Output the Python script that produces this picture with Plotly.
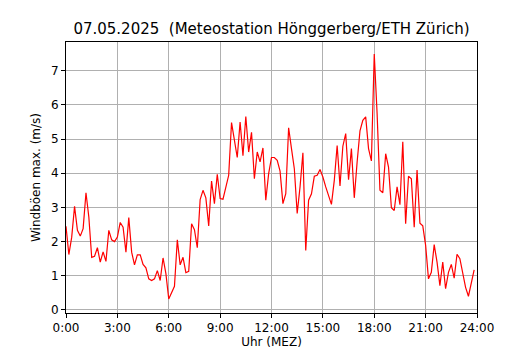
import plotly.graph_objects as go

title = "07.05.2025  (Meteostation Hönggerberg/ETH Zürich)"
x_label = "Uhr (MEZ)"
y_label = "Windböen max. (m/s)"
tick_hours = [0, 3, 6, 9, 12, 15, 18, 21, 24]
tick_labels = ["0:00", "3:00", "6:00", "9:00", "12:00", "15:00", "18:00", "21:00", "24:00"]
y_ticks = [0, 1, 2, 3, 4, 5, 6, 7]

# 10-minute values, 0:00 .. 23:50
gusts = [
    2.45, 1.62, 2.13, 3.03, 2.33, 2.16, 2.38, 3.43, 2.72, 1.54, 1.57, 1.82,
    1.40, 1.70, 1.42, 2.33, 2.05, 2.00, 2.13, 2.56, 2.42, 1.69, 2.70, 1.69,
    1.32, 1.61, 1.61, 1.33, 1.23, 0.91, 0.86, 0.91, 1.15, 0.86, 1.52, 1.06,
    0.32, 0.52, 0.69, 2.05, 1.32, 1.54, 1.09, 1.13, 2.52, 2.35, 1.82, 3.23,
    3.50, 3.28, 2.46, 3.77, 3.11, 3.97, 3.26, 3.24, 3.57, 3.94, 5.48, 4.97,
    4.46, 5.50, 4.51, 5.66, 4.62, 5.20, 3.84, 4.62, 4.33, 4.74, 3.21, 3.99,
    4.46, 4.46, 4.38, 4.06, 3.11, 3.40, 5.33, 4.72, 4.13, 2.82, 3.60, 4.60,
    1.74, 3.21, 3.40, 3.91, 3.94, 4.11, 3.89, 3.60, 3.35, 3.09, 3.79, 4.81,
    3.63, 4.79, 5.16, 3.81, 4.72, 3.28, 4.33, 5.24, 5.55, 5.65, 4.72, 4.36,
    7.49, 5.75, 3.50, 3.43, 4.57, 4.18, 2.99, 2.91, 3.60, 3.08, 4.92, 2.52,
    3.91, 3.84, 2.42, 4.09, 2.54, 2.46, 1.89, 0.91, 1.10, 1.91, 1.40, 0.71,
    1.40, 0.62, 1.10, 1.33, 0.93, 1.63, 1.50, 1.10, 0.66, 0.40, 0.76, 1.17,
]
hours = [i / 6 for i in range(len(gusts))]

fig = go.Figure()
fig.add_trace(go.Scatter(x=hours, y=gusts, mode="lines",
                         line=dict(color="#ff0000", width=1.2), showlegend=False))

axis_common = dict(
    showline=True, linecolor="black", linewidth=1, mirror=True,
    ticks="outside", ticklen=4, tickcolor="black", tickwidth=1,
    showgrid=True, gridcolor="#b0b0b0", gridwidth=1, zeroline=False,
    tickfont=dict(size=12, color="black"), automargin=False,
)

# page body has an 8px margin, so the figure is sized to fit inside it
fig.update_layout(
    width=522, height=342,
    margin=dict(l=58, r=53, t=34, b=37),
    paper_bgcolor="white", plot_bgcolor="white",
    font=dict(family="DejaVu Sans", color="black"),
    title=dict(text=title, x=0.5, xanchor="center", xref="paper",
               y=1 - 21 / 342, yanchor="middle", font=dict(size=15)),
    xaxis=dict(range=[0, 24], tickvals=tick_hours, ticktext=tick_labels,
               title=dict(text=x_label, font=dict(size=12), standoff=2), **axis_common),
    yaxis=dict(range=[-0.09, 7.84], tickvals=y_ticks,
               title=dict(text=y_label, font=dict(size=12), standoff=7), **axis_common),
)

fig.write_html("out.html")
